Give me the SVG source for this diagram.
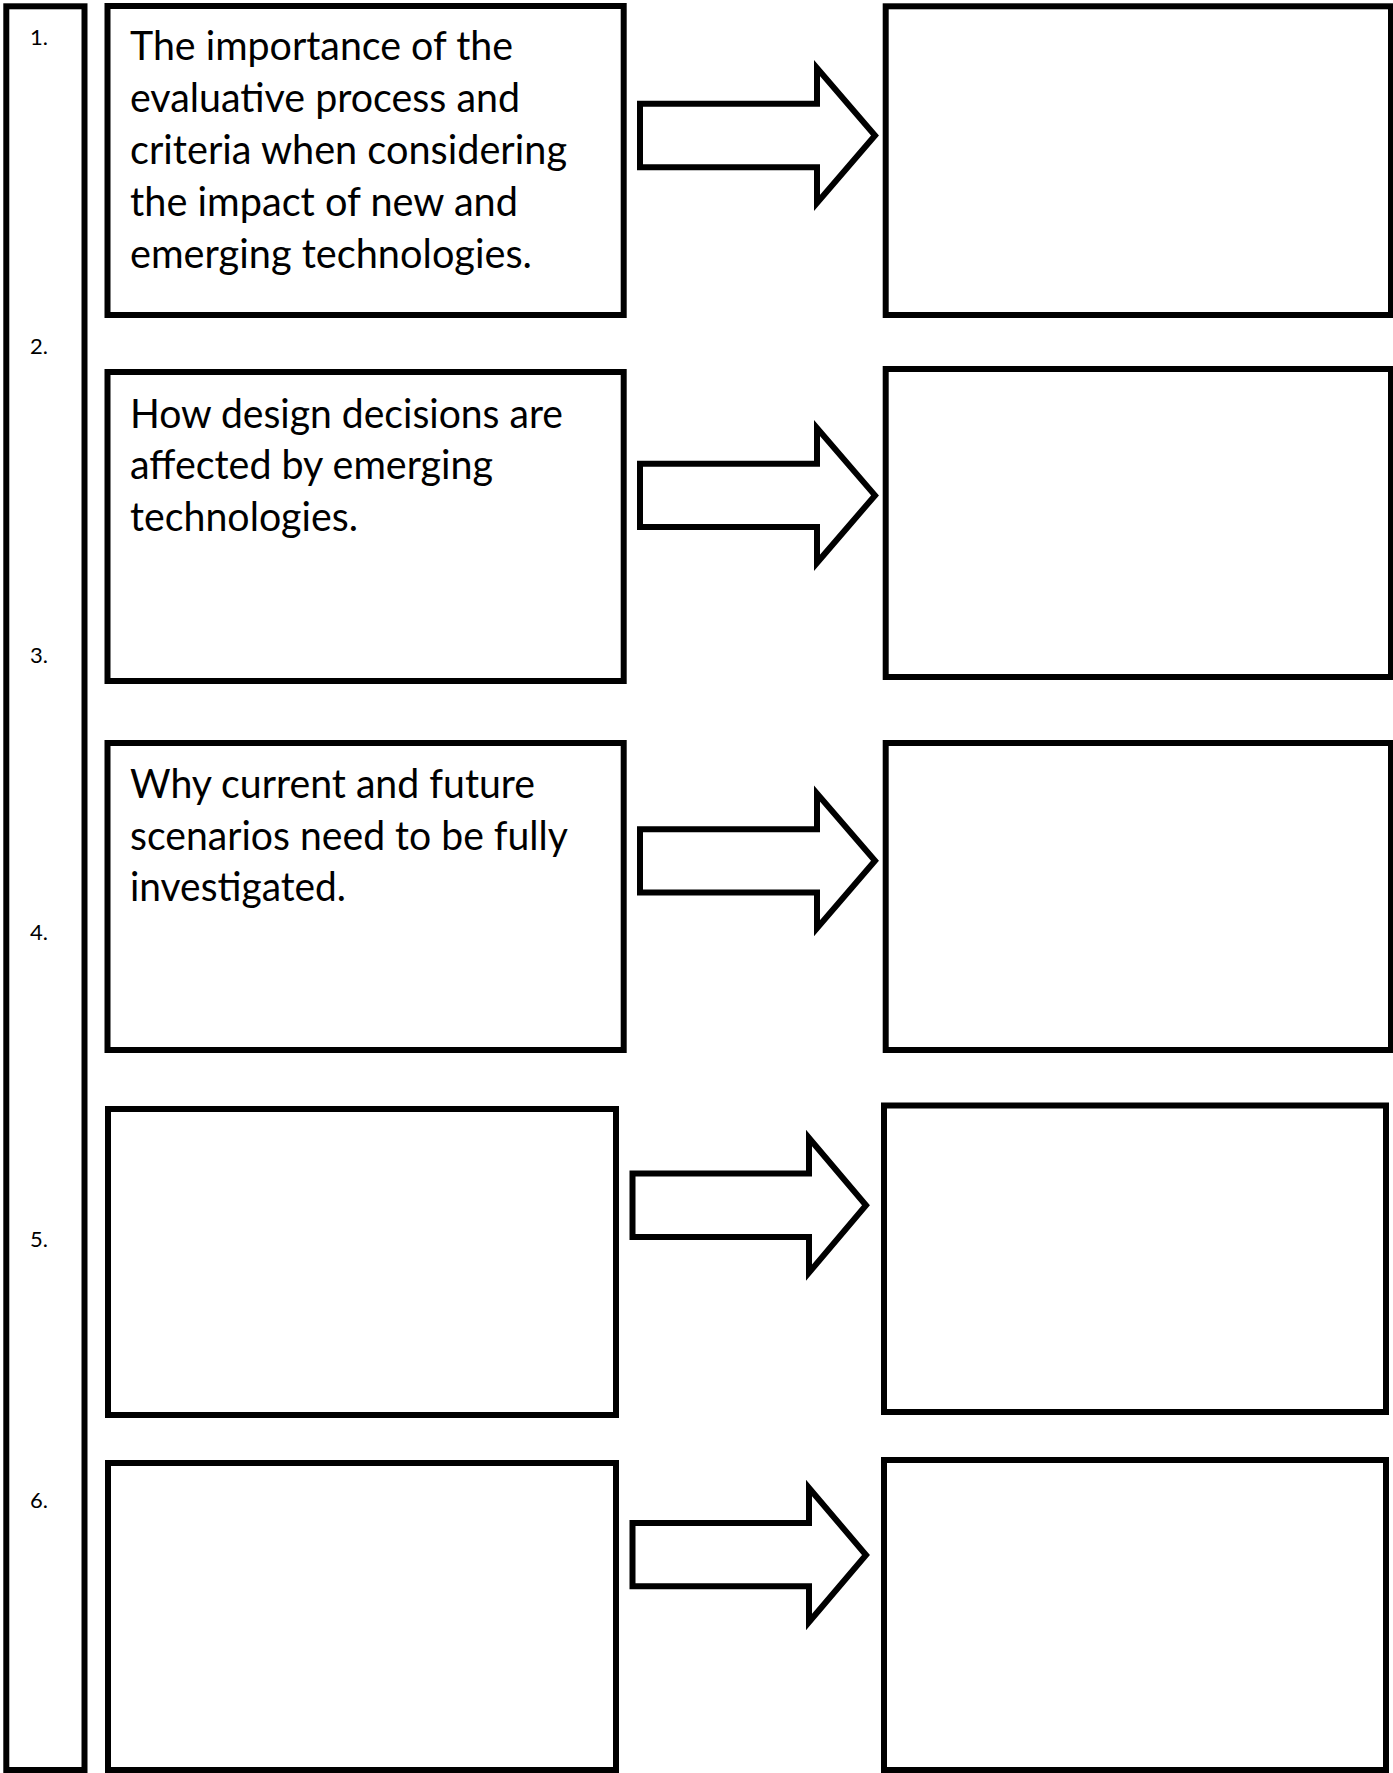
<svg xmlns="http://www.w3.org/2000/svg" width="1393" height="1773" viewBox="0 0 1393 1773">
<style>
.box{fill:#fff;stroke:#000;stroke-width:6}
.arrow{fill:#fff;stroke:#000;stroke-width:6;stroke-linejoin:miter;stroke-miterlimit:10}
.t{font-family:Lato,"Liberation Sans",sans-serif;font-size:41px;fill:#000}
.n{font-family:Lato,"Liberation Sans",sans-serif;font-size:22px;fill:#000}
</style>
<rect width="1393" height="1773" fill="#fff"/>
<g id="numbers">
<rect class="box" x="6.3" y="6.3" width="78.2" height="1763.7"/>
<text class="n" x="30" y="45">1.</text>
<text class="n" x="30" y="354">2.</text>
<text class="n" x="30" y="663">3.</text>
<text class="n" x="30" y="940">4.</text>
<text class="n" x="30" y="1247">5.</text>
<text class="n" x="30" y="1508">6.</text>
</g>
<g id="topic1">
<rect class="box" x="107.5" y="6" width="516.2" height="309"/>
<text class="t" x="130" y="59.6" textLength="383" lengthAdjust="spacingAndGlyphs">The importance of the</text>
<text class="t" x="130" y="111.8" textLength="390" lengthAdjust="spacingAndGlyphs">evaluative process and</text>
<text class="t" x="130" y="163.9" textLength="437" lengthAdjust="spacingAndGlyphs">criteria when considering</text>
<text class="t" x="130" y="216" textLength="388" lengthAdjust="spacingAndGlyphs">the impact of new and</text>
<text class="t" x="130" y="268.2" textLength="402" lengthAdjust="spacingAndGlyphs">emerging technologies.</text>
</g>
<g id="answer1"><rect class="box" x="885.7" y="6.3" width="505.3" height="308.7"/></g>
<g id="topic2">
<rect class="box" x="107.5" y="372" width="516.2" height="309"/>
<text class="t" x="130" y="427.7" textLength="433" lengthAdjust="spacingAndGlyphs">How design decisions are</text>
<text class="t" x="130" y="479.3" textLength="363" lengthAdjust="spacingAndGlyphs">affected by emerging</text>
<text class="t" x="130" y="530.6" textLength="228" lengthAdjust="spacingAndGlyphs">technologies.</text>
</g>
<g id="answer2"><rect class="box" x="885.7" y="369" width="505.3" height="308"/></g>
<g id="topic3">
<rect class="box" x="107.5" y="743" width="516.2" height="307"/>
<text class="t" x="130" y="798.3" textLength="405" lengthAdjust="spacingAndGlyphs">Why current and future</text>
<text class="t" x="130" y="850" textLength="438" lengthAdjust="spacingAndGlyphs">scenarios need to be fully</text>
<text class="t" x="130" y="901" textLength="216" lengthAdjust="spacingAndGlyphs">investigated.</text>
</g>
<g id="answer3"><rect class="box" x="885.7" y="743" width="505.3" height="307"/></g>
<g id="topic4"><rect class="box" x="108" y="1109" width="508" height="306"/></g>
<g id="answer4"><rect class="box" x="884" y="1105.5" width="502" height="306.5"/></g>
<g id="topic5"><rect class="box" x="108" y="1463" width="508" height="307"/></g>
<g id="answer5"><rect class="box" x="884" y="1460" width="502" height="310"/></g>
<g id="connectors">
<polygon class="arrow" points="640,103.8 817,103.8 817,68 875,135.5 817,203 817,167.2 640,167.2"/>
<polygon class="arrow" points="640,463.7 817,463.7 817,428 875,495.4 817,562.8 817,527.1 640,527.1"/>
<polygon class="arrow" points="640,829.2 817,829.2 817,793.5 875,860.8 817,928.1 817,892.4 640,892.4"/>
<polygon class="arrow" points="632.5,1173.6 809,1173.6 809,1138 866,1205.3 809,1272.6 809,1237 632.5,1237"/>
<polygon class="arrow" points="632.5,1523 809,1523 809,1488 866,1555 809,1622 809,1586.3 632.5,1586.3"/>
</g>
</svg>
